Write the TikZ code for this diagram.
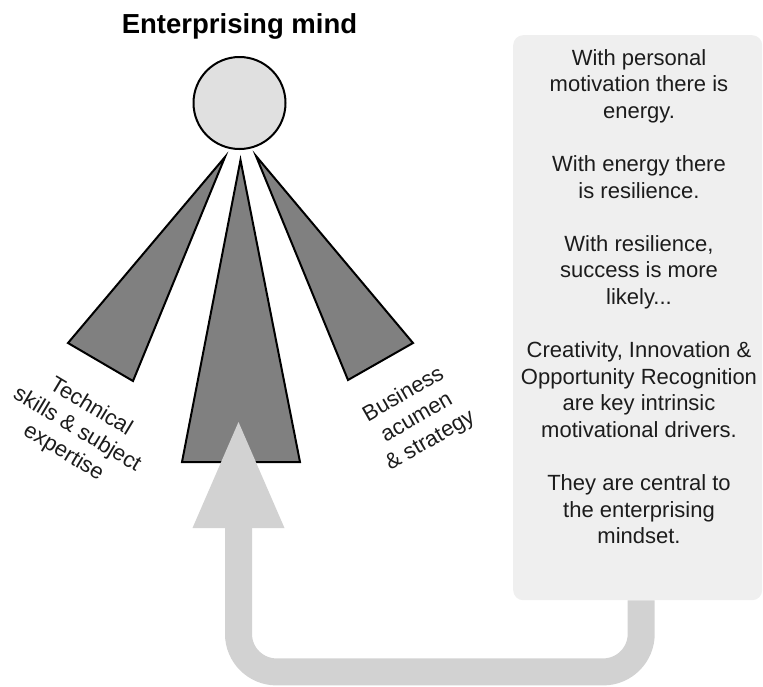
\documentclass[tikz,border=0pt]{standalone}
\usepackage{fontspec}
\setmainfont{Liberation Sans}
\usetikzlibrary{arrows.meta}
\definecolor{ink}{HTML}{1C1C1C}
\definecolor{headfill}{HTML}{E0E0E0}
\definecolor{rayfill}{HTML}{808080}
\definecolor{panelfill}{HTML}{EFEFEF}
\definecolor{loopgray}{HTML}{D2D2D2}

\begin{document}
\begin{tikzpicture}[x=1pt,y=-1pt,
  ray/.style={draw=black, line width=2pt, fill=rayfill, line join=miter},
  caption/.style={font=\fontsize{22}{26.6}\selectfont, text=ink, align=center, inner sep=0pt},
  headline/.style={font=\bfseries\fontsize{27.5}{33}\selectfont, text=black, inner sep=0pt},
  panelbox/.style={fill=panelfill, rounded corners=10pt, inner sep=0pt},
  loop/.style={line width=27pt, draw=loopgray, rounded corners=38pt,
    -{Triangle[length=106pt, width=92pt, line width=0pt]}}]
\useasboundingbox (0,0) rectangle (763,686);

% title and head
\node[headline, anchor=base] (title) at (239.5,33) {Enterprising mind};
\node[circle, draw=black, line width=2pt, fill=headfill, minimum size=92pt, inner sep=0pt] (head) at (239.5,103) {};

% the three rays below the head
\draw[ray] (225,157) -- (68,343) -- (133,381) -- cycle;
\draw[ray] (240.5,160) -- (182,462) -- (300,462) -- cycle;
\draw[ray] (256,156) -- (413,343) -- (348,380) -- cycle;

% side labels
\node[caption, rotate=-31] (skills) at (77,430) {Technical\\skills \& subject\\expertise};
\node[caption, rotate=30] (business) at (417,418) {Business\\acumen\\\& strategy};

% notes panel
\node[panelbox, minimum width=249pt, minimum height=565pt, anchor=north west] (panel) at (513,35) {};
\node[caption, anchor=north] (notes) at (639,49) {With personal\\motivation there is\\energy.\\[26.6pt]
With energy there\\is resilience.\\[26.6pt]
With resilience,\\success is more\\likely...\\[26.6pt]
Creativity, Innovation \&\\Opportunity Recognition\\are key intrinsic\\motivational drivers.\\[26.6pt]
They are central to\\the enterprising\\mindset.};

% feedback loop from the panel back into the middle ray
\coordinate (tip) at (238.5,422);
\draw[loop] ([xshift=3.5pt]panel.south) -- ++(0,71.5) -| (tip);
\end{tikzpicture}
\end{document}
